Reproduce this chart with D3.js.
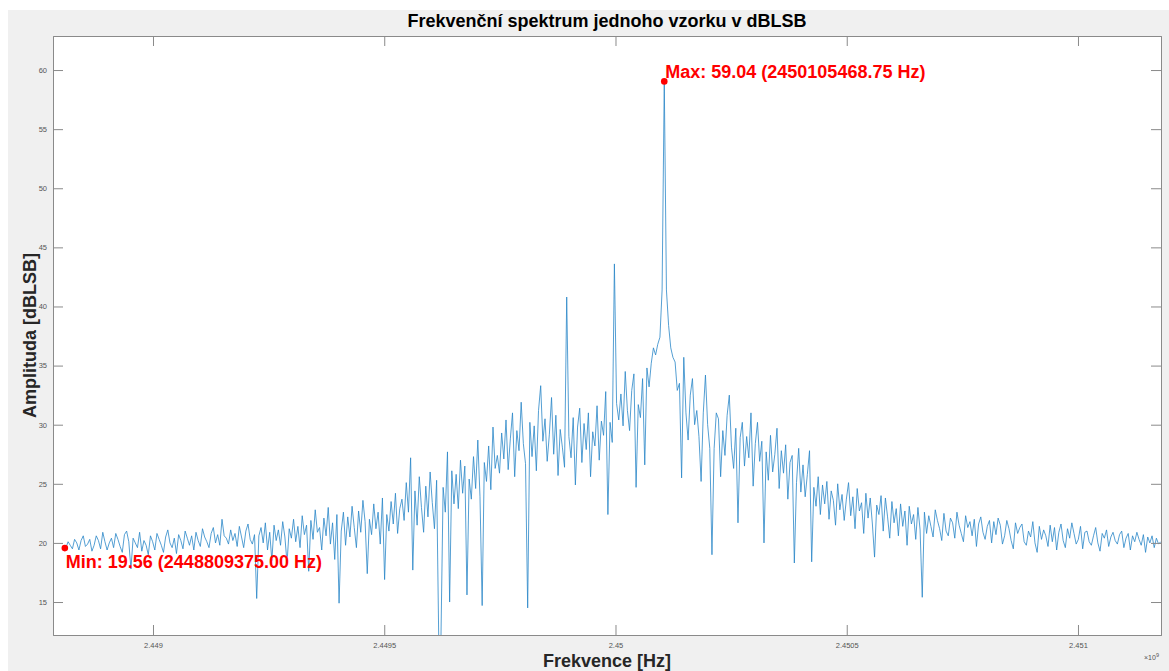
<!DOCTYPE html>
<html>
<head>
<meta charset="utf-8">
<script src="https://cdn.jsdelivr.net/npm/d3@7"></script>
<style>
  html, body { margin: 0; padding: 0; background: #ffffff; }
  svg { display: block; }
</style>
</head>
<body>
<svg id="chart" width="1169" height="671"></svg>
<script>
// ---------------- DATA ----------------
const chartTitle = "Frekvenční spektrum jednoho vzorku v dBLSB";
const xLabel = "Frekvence [Hz]";
const yLabel = "Amplituda [dBLSB]";
// frequency bins (Hz): first bin and spacing (2 FFT bins of 2343.75 Hz)
const freqStart = 2448811718.75;
const freqStep = 4687.5;
// amplitude (dBLSB) of each plotted bin
const amplitude = [
19.6,20.1,19.8,19.5,20.3,20.0,19.4,20.2,20.6,19.7,
19.9,20.3,19.3,19.8,20.6,20.2,19.5,20.9,20.1,19.4,
20.0,20.4,19.6,20.8,20.3,19.7,19.2,20.7,21.0,20.1,
17.8,20.4,20.0,19.6,20.9,19.3,20.2,19.8,19.0,20.6,
20.1,19.4,20.8,20.3,19.8,19.2,20.5,21.1,20.0,19.6,
20.4,19.1,20.7,20.2,19.5,21.0,20.4,19.8,20.6,19.4,
20.9,20.2,19.7,21.2,20.5,20.1,19.6,20.8,21.3,20.0,
20.7,19.8,22.0,20.6,20.4,19.9,21.1,20.2,20.8,19.7,
21.4,20.5,19.6,21.0,21.6,20.3,19.9,20.7,15.3,20.6,
21.3,20.0,21.7,19.4,20.9,18.5,21.5,20.2,21.1,19.8,
21.8,20.5,18.3,21.2,20.4,22.0,20.1,21.4,19.6,22.3,
20.7,21.5,17.6,21.9,20.3,22.8,20.9,21.3,19.4,22.1,
20.6,23.0,19.9,21.7,18.6,22.4,14.9,21.0,22.6,19.8,
22.2,20.5,23.1,21.3,19.6,22.7,20.9,23.6,21.8,17.4,
22.0,20.7,23.3,21.2,22.6,19.9,23.8,16.9,22.4,21.0,
23.5,21.6,24.2,20.8,22.9,23.7,21.9,25.1,22.6,27.2,
17.7,24.4,21.5,25.6,23.0,20.9,24.8,22.2,26.0,23.4,
21.2,25.3,11.5,12.0,24.7,22.6,27.7,15.0,26.1,23.3,
25.8,22.9,27.0,24.2,26.5,15.6,25.4,23.7,27.3,24.6,
28.7,23.9,14.7,26.8,25.2,28.2,24.5,29.8,26.3,27.4,
25.9,29.3,27.1,30.4,26.2,28.8,31.0,25.6,29.5,27.8,
31.9,28.4,26.7,14.5,30.2,27.3,29.9,26.1,31.2,33.3,
28.6,30.5,26.9,29.2,32.3,27.5,30.8,25.7,29.6,28.1,
26.4,40.8,29.0,27.2,30.6,24.9,29.8,31.4,26.8,30.1,
27.9,31.0,25.6,29.4,28.2,31.6,27.0,30.3,29.1,32.8,
22.4,30.2,28.5,43.6,31.8,30.4,32.6,29.9,34.5,31.2,
29.5,32.9,34.3,24.7,31.7,30.6,33.9,26.6,34.8,33.2,
35.2,36.5,35.9,36.8,37.4,41.4,59.04,41.4,38.4,36.5,
35.7,35.3,32.9,33.5,25.5,35.7,31.0,28.7,32.5,33.9,
30.0,31.2,29.0,25.2,31.0,34.2,30.0,28.0,19.0,28.0,
31.0,30.5,25.6,29.5,27.4,30.8,32.5,28.1,26.3,29.7,
21.7,28.9,30.2,26.5,29.0,27.2,31.0,24.8,28.4,30.2,
26.9,28.6,20.0,27.7,25.3,29.1,26.0,27.5,29.7,24.6,
27.8,25.9,28.3,23.7,26.8,27.4,18.3,25.1,28.0,24.3,
26.6,23.9,25.8,27.8,18.4,24.7,23.1,25.6,22.4,24.9,
23.3,25.2,22.0,24.4,23.6,21.5,25.0,22.8,24.1,21.9,
23.7,25.1,22.3,23.9,21.2,24.6,22.7,23.4,20.8,24.2,
22.1,23.8,21.6,18.8,23.2,22.4,24.0,21.0,23.8,22.2,
20.4,23.5,21.7,22.9,20.6,23.3,21.4,22.7,19.8,23.1,
21.6,22.4,20.3,23.0,21.1,15.4,22.6,20.8,22.3,21.4,
20.5,22.8,21.9,21.2,20.2,22.5,21.0,20.6,22.1,21.7,
20.4,22.6,21.5,20.8,20.1,22.3,21.3,21.8,20.6,22.0,
19.7,21.6,22.2,20.9,20.3,21.4,21.9,20.0,21.8,20.7,
22.1,21.5,19.9,20.6,21.9,21.2,20.2,19.5,21.7,20.8,
21.3,21.6,20.1,19.8,21.0,20.5,21.8,20.0,19.2,21.4,
20.3,21.1,20.6,19.7,21.5,20.1,21.3,19.4,20.9,21.6,
20.2,19.6,21.2,20.4,21.7,20.8,19.9,20.3,21.4,19.5,
20.9,21.0,20.1,19.8,20.6,21.3,20.0,19.3,20.8,20.4,
21.1,19.7,20.5,20.9,20.2,19.9,20.7,21.0,19.6,20.4,
20.8,19.4,20.6,20.1,20.9,20.3,19.8,20.7,19.2,20.5,
20.0,20.6,19.6,20.4,19.9,20.1
];
// annotated extremes
const maxFreq = 2450105468.75, maxVal = 59.04;
const minFreq = 2448809375.00, minVal = 19.56;
// axes
const xDomain = [2448783800, 2451179500];
const yDomain = [12.21, 62.88];
const xTicks = [2449000000, 2449500000, 2450000000, 2450500000, 2451000000];
const yTicks = [15, 20, 25, 30, 35, 40, 45, 50, 55, 60];

// ---------------- LAYOUT ----------------
const svg = d3.select("#chart");
const W = 1169, H = 671;
const plot = { left: 53, top: 36, right: 1161, bottom: 635 };
const font = "'Liberation Sans', Arial, Helvetica, sans-serif";

// figure background
svg.append("rect").attr("x", 8).attr("y", 10).attr("width", W - 8).attr("height", H - 10).attr("fill", "#f0f0f0");
// axes background
svg.append("rect").attr("x", plot.left).attr("y", plot.top)
  .attr("width", plot.right - plot.left).attr("height", plot.bottom - plot.top).attr("fill", "#ffffff");

const x = d3.scaleLinear().domain(xDomain).range([plot.left, plot.right]);
const y = d3.scaleLinear().domain(yDomain).range([plot.bottom, plot.top]);

const data = amplitude.map((v, i) => ({ f: freqStart + i * freqStep, v }));

svg.append("defs").append("clipPath").attr("id", "clip")
  .append("rect").attr("x", plot.left).attr("y", plot.top)
  .attr("width", plot.right - plot.left).attr("height", plot.bottom - plot.top);

const line = d3.line().x(d => x(d.f)).y(d => y(d.v));
svg.append("path").datum(data)
  .attr("clip-path", "url(#clip)")
  .attr("fill", "none").attr("stroke", "#2a86c8").attr("stroke-width", 0.8)
  .attr("stroke-linejoin", "round")
  .attr("d", line);

// axes
const axisColor = "#8a8a8a";
const tickLen = 10;
const fmtX = d => String(+(d / 1e9).toFixed(4));

const gB = svg.append("g").attr("transform", `translate(0,${plot.bottom})`)
  .call(d3.axisBottom(x).tickValues(xTicks).tickFormat(fmtX).tickSize(-tickLen).tickPadding(6));
const gT = svg.append("g").attr("transform", `translate(0,${plot.top})`)
  .call(d3.axisTop(x).tickValues(xTicks).tickFormat("").tickSize(-tickLen));
const gL = svg.append("g").attr("transform", `translate(${plot.left},0)`)
  .call(d3.axisLeft(y).tickValues(yTicks).tickFormat(d3.format("d")).tickSize(-tickLen).tickPadding(6));
const gR = svg.append("g").attr("transform", `translate(${plot.right},0)`)
  .call(d3.axisRight(y).tickValues(yTicks).tickFormat("").tickSize(-tickLen));

[gB, gT, gL, gR].forEach(g => {
  g.select(".domain").attr("stroke", axisColor).attr("stroke-width", 1);
  g.selectAll(".tick line").attr("stroke", axisColor).attr("stroke-width", 1);
  g.selectAll(".tick text").attr("fill", "#555555").attr("font-family", font).attr("font-size", 7.5);
});
gB.selectAll(".tick text").attr("dy", "0.9em");

// exponent
const expT = svg.append("text").attr("x", 1144).attr("y", 660)
  .attr("font-family", font).attr("font-size", 7).attr("fill", "#555555");
expT.append("tspan").text("×10");
expT.append("tspan").attr("dy", -3).attr("font-size", 5.5).text("9");

// title and labels
svg.append("text").attr("x", (plot.left + plot.right) / 2).attr("y", 27)
  .attr("text-anchor", "middle").attr("font-family", font).attr("font-weight", "bold")
  .attr("font-size", 18).attr("fill", "#000").text(chartTitle);
svg.append("text").attr("x", (plot.left + plot.right) / 2).attr("y", 667)
  .attr("text-anchor", "middle").attr("font-family", font).attr("font-weight", "bold")
  .attr("font-size", 18).attr("fill", "#262626").text(xLabel);
svg.append("text").attr("transform", `translate(36,${(plot.top + plot.bottom) / 2}) rotate(-90)`)
  .attr("text-anchor", "middle").attr("font-family", font).attr("font-weight", "bold")
  .attr("font-size", 18).attr("fill", "#262626").text(yLabel);

// annotations
const red = "#ff0000";
svg.append("circle").attr("cx", x(maxFreq)).attr("cy", y(maxVal)).attr("r", 3.3).attr("fill", red);
svg.append("text").attr("x", x(maxFreq) + 1).attr("y", y(maxVal) - 3)
  .attr("font-family", font).attr("font-weight", "bold").attr("font-size", 18).attr("fill", red)
  .text(`Max: ${maxVal.toFixed(2)} (${maxFreq.toFixed(2)} Hz)`);
svg.append("circle").attr("cx", x(minFreq)).attr("cy", y(minVal)).attr("r", 3.3).attr("fill", red);
svg.append("text").attr("x", x(minFreq) + 1).attr("y", y(minVal) + 20)
  .attr("font-family", font).attr("font-weight", "bold").attr("font-size", 18).attr("fill", red)
  .text(`Min: ${minVal.toFixed(2)} (${minFreq.toFixed(2)} Hz)`);
</script>
</body>
</html>
